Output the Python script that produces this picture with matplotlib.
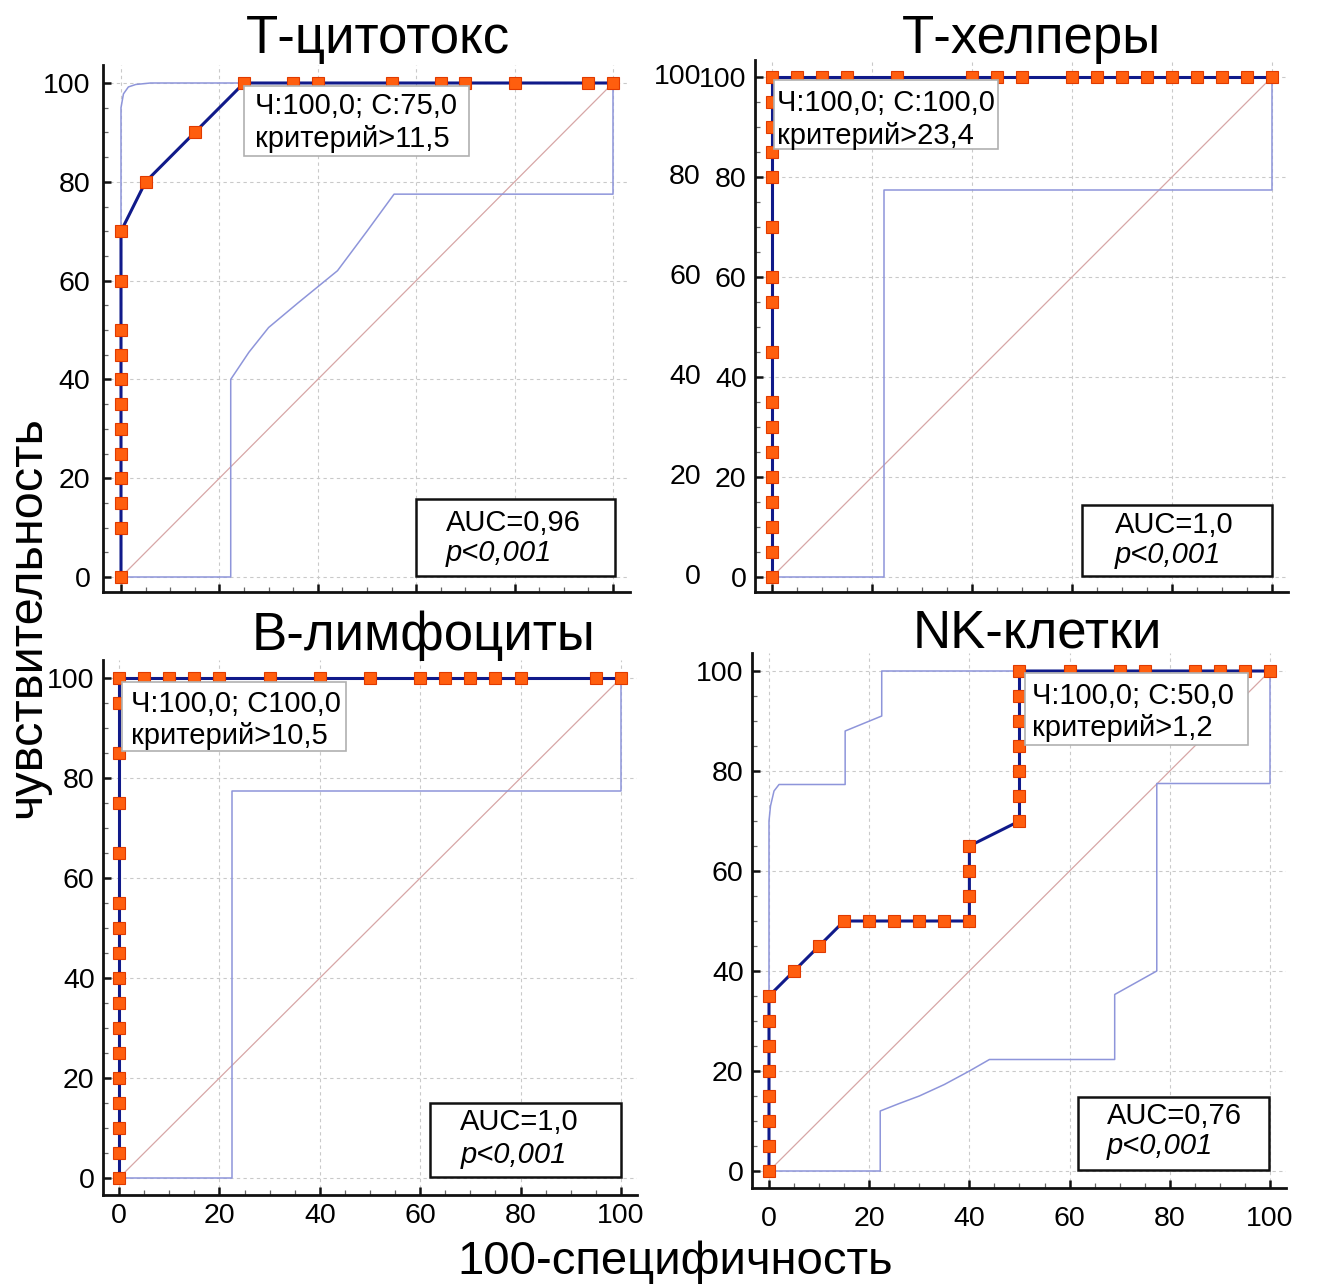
import matplotlib
matplotlib.use("Agg")
import matplotlib.pyplot as plt
from matplotlib.patches import Rectangle
from matplotlib.ticker import MultipleLocator

plt.rcParams['font.family'] = ['Liberation Sans', 'DejaVu Sans']

W, H = 1317, 1286

# ---- data ----
titles = ["Т-цитотокс", "Т-хелперы", "В-лимфоциты", "NK-клетки"]
auc_labels = ["AUC=0,96", "AUC=1,0", "AUC=1,0", "AUC=0,76"]
crit_labels = ["Ч:100,0; С:75,0\nкритерий>11,5",
               "Ч:100,0; С:100,0\nкритерий>23,4",
               "Ч:100,0; С100,0\nкритерий>10,5",
               "Ч:100,0; С:50,0\nкритерий>1,2"]
p_label = "p<0,001"
y_ticks = [0, 20, 40, 60, 80, 100]

# Т-цитотокс
tc_x = [0, 0, 0, 0, 0, 0, 0, 0, 0, 0, 0, 0, 5, 15, 25, 35, 40, 55, 65, 70, 80, 95, 100]
tc_y = [0, 10, 15, 20, 25, 30, 35, 40, 45, 50, 60, 70, 80, 90, 100, 100, 100, 100, 100, 100, 100, 100, 100]
tc_up_x = [0, 0, 0.5, 1.5, 3, 6, 100]
tc_up_y = [0, 95, 97.8, 99.2, 99.7, 100, 100]
tc_lo_x = [0, 22.3, 22.3, 26, 30, 36, 44, 50, 55.5, 100, 100]
tc_lo_y = [0, 0, 40, 45.5, 50.5, 55.5, 62, 70, 77.5, 77.5, 100]

# Т-хелперы
th_x = [0, 0, 0, 0, 0, 0, 0, 0, 0, 0, 0, 0, 0, 0, 0, 0, 0,
        5, 10, 15, 25, 40, 45, 50, 60, 65, 70, 75, 80, 85, 90, 95, 100]
th_y = [0, 5, 10, 15, 20, 25, 30, 35, 45, 55, 60, 70, 80, 85, 90, 95, 100,
        100, 100, 100, 100, 100, 100, 100, 100, 100, 100, 100, 100, 100, 100, 100, 100]
th_up_x = [0, 0, 100]
th_up_y = [0, 100, 100]
th_lo_x = [0, 22.4, 22.4, 100, 100]
th_lo_y = [0, 0, 77.4, 77.4, 100]

# В-лимфоциты
bl_x = [0, 0, 0, 0, 0, 0, 0, 0, 0, 0, 0, 0, 0, 0, 0, 0, 0,
        5, 10, 15, 20, 30, 40, 50, 60, 65, 70, 75, 80, 95, 100]
bl_y = [0, 5, 10, 15, 20, 25, 30, 35, 40, 45, 50, 55, 65, 75, 85, 95, 100,
        100, 100, 100, 100, 100, 100, 100, 100, 100, 100, 100, 100, 100, 100]
bl_up_x = [0, 0, 100]
bl_up_y = [0, 100, 100]
bl_lo_x = [0, 22.5, 22.5, 100, 100]
bl_lo_y = [0, 0, 77.5, 77.5, 100]

# NK-клетки
nk_x = [0, 0, 0, 0, 0, 0, 0, 0, 5, 10, 15, 20, 25, 30, 35, 40, 40, 40, 40,
        50, 50, 50, 50, 50, 50, 50, 60, 70, 75, 85, 90, 95, 100]
nk_y = [0, 5, 10, 15, 20, 25, 30, 35, 40, 45, 50, 50, 50, 50, 50, 50, 55, 60, 65,
        70, 75, 80, 85, 90, 95, 100, 100, 100, 100, 100, 100, 100, 100]
nk_up_x = [0, 0, 0.3, 1, 2, 15.2, 15.2, 22.5, 22.5, 100]
nk_up_y = [0, 70, 73, 76, 77.3, 77.3, 88, 91, 100, 100]
nk_lo_x = [0, 22.2, 22.2, 26, 30, 35, 40, 44, 69, 69, 77.4, 77.4, 100, 100]
nk_lo_y = [0, 0, 12, 13.5, 15, 17.3, 20, 22.3, 22.3, 35.3, 40, 77.5, 77.5, 100]

rocs = [(tc_x, tc_y), (th_x, th_y), (bl_x, bl_y), (nk_x, nk_y)]
uppers = [(tc_up_x, tc_up_y), (th_up_x, th_up_y), (bl_up_x, bl_up_y), (nk_up_x, nk_up_y)]
lowers = [(tc_lo_x, tc_lo_y), (th_lo_x, th_lo_y), (bl_lo_x, bl_lo_y), (nk_lo_x, nk_lo_y)]

# ---- layout (pixels): x0, x100, y0, y100, spine_x, spine_y, right, top ----
panels = [
    (121, 613, 577, 83, 103, 592, 630, 65),
    (772, 1272, 577, 77, 755, 592, 1288, 60),
    (119, 621, 1178, 678, 103, 1195, 637, 660),
    (769, 1270, 1171, 671, 752, 1188, 1286, 653),
]
ylab_pad = [9, 6, 6, 6]
xlab_pad = [6, 6, 6, 13]
title_pos = [(378, 53), (1031, 53), (424, 650), (1037, 648)]
# criterion box: (x0, x1, y_bottom, y_top, text_x, line1_y, line2_y) in data units
crit_box = [
    (25.0, 70.8, 85.2, 99.4, 27.2, 95.4, 88.6),
    (0.5, 45.3, 85.6, 99.5, 1.0, 94.8, 88.2),
    (0.5, 45.3, 85.4, 99.3, 2.4, 94.9, 88.4),
    (51.0, 95.7, 85.2, 99.6, 52.4, 95.0, 88.6),
]
# AUC box: (x0, x1, y_bottom, y_top, text_x, auc_y, p_y)
auc_box = [
    (60.0, 100.4, 0.2, 15.8, 66.0, 11.0, 4.8),
    (62.0, 100.0, 0.2, 14.4, 68.6, 10.4, 4.4),
    (62.0, 100.0, 0.3, 15.0, 68.0, 11.2, 4.6),
    (61.7, 99.8, 0.2, 14.8, 67.4, 11.0, 5.0),
]

fig = plt.figure(figsize=(W / 100, H / 100), dpi=100)

for i in range(4):
    x0, x100, y0, y100, sxp, syp, rp, tp = panels[i]
    kx = (x100 - x0) / 100
    ky = (y0 - y100) / 100
    ax = fig.add_axes([sxp / W, 1 - syp / H, (rp - sxp) / W, (syp - tp) / H])
    ax.set_xlim((sxp - x0) / kx, (rp - x0) / kx)
    ax.set_ylim((y0 - syp) / ky, (y0 - tp) / ky)

    for s in ['top', 'right']:
        ax.spines[s].set_visible(False)
    for s in ['left', 'bottom']:
        ax.spines[s].set_linewidth(2.0)
        ax.spines[s].set_color('#111111')

    ax.xaxis.set_major_locator(MultipleLocator(20))
    ax.yaxis.set_major_locator(MultipleLocator(20))
    ax.xaxis.set_minor_locator(MultipleLocator(5))
    ax.yaxis.set_minor_locator(MultipleLocator(5))
    ax.tick_params(which='major', direction='in', length=6, width=1.8, color='#111111',
                   labelsize=20.5)
    ax.tick_params(which='minor', direction='in', length=3.5, width=0.9, color='#666666')
    ax.tick_params(axis='y', which='major', pad=ylab_pad[i])
    ax.tick_params(axis='x', which='major', pad=xlab_pad[i])
    if i < 2:
        ax.tick_params(axis='x', labelbottom=False)
    ax.grid(True, which='major', color='#c9c9c9', ls=(0, (3, 3)), lw=0.8)
    ax.set_axisbelow(True)

    # second column of tick numbers on the T-helper panel
    if i == 1:
        for v in y_ticks:
            ax.annotate(str(v), xy=(0, v), xycoords=('axes fraction', 'data'),
                        xytext=(-54, 0), textcoords='offset pixels',
                        ha='right', va='center', fontsize=20.5)

    ax.plot([0, 100], [0, 100], color='#d7a6a6', lw=0.9, zorder=2)
    ax.plot(*uppers[i], color='#8e95da', lw=1.1, zorder=2)
    ax.plot(*lowers[i], color='#8e95da', lw=1.1, zorder=2)
    ax.plot(*rocs[i], color='#101a8a', lw=2.2, marker='s', ms=8,
            mfc='#ff5e0e', mec='#e03a00', mew=0.8, zorder=5, clip_on=False)

    # criterion box
    bx0, bx1, by0, by1, tx, ly1, ly2 = crit_box[i]
    ax.add_patch(Rectangle((bx0, by0), bx1 - bx0, by1 - by0, fc='white',
                           ec='#b0b0b0', lw=1.2, zorder=6))
    l1, l2 = crit_labels[i].split("\n")
    ax.text(tx, ly1, l1, fontsize=21, ha='left', va='center', zorder=7)
    ax.text(tx, ly2, l2, fontsize=21, ha='left', va='center', zorder=7)

    # AUC box
    ax0, ax1, ay0, ay1, atx, aly, ply = auc_box[i]
    ax.add_patch(Rectangle((ax0, ay0), ax1 - ax0, ay1 - ay0, fc='white',
                           ec='#111111', lw=1.8, zorder=6))
    ax.text(atx, aly, auc_labels[i], fontsize=21, ha='left', va='center', zorder=7)
    ax.text(atx, ply, p_label, fontsize=21, style='italic', ha='left', va='center',
            zorder=7)

    tx_, ty_ = title_pos[i]
    fig.text(tx_ / W, 1 - ty_ / H, titles[i], fontsize=38, ha='center', va='baseline')

fig.text(28 / W, 1 - 617 / H, "чувствительность", fontsize=35, rotation=90,
         ha='center', va='center')
fig.text(675 / W, 1 - 1262 / H, "100-специфичность", fontsize=34,
         ha='center', va='center')

fig.savefig('out.png', dpi=100, facecolor='white')
